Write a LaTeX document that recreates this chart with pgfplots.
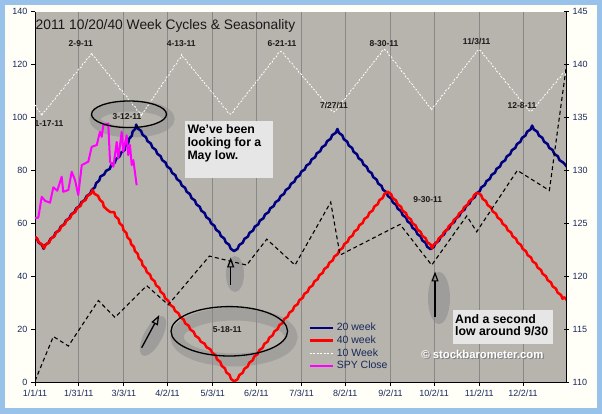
\documentclass[border=0pt]{standalone}
\usepackage{fontspec}
\setmainfont{Liberation Sans}
\usepackage{pgfplots}
\pgfplotsset{compat=1.18}
\usetikzlibrary{arrows.meta,decorations.pathmorphing}
\definecolor{outerblue}{RGB}{153,194,235}
\definecolor{cream}{RGB}{255,255,247}
\definecolor{plotgray}{RGB}{182,180,172}
\definecolor{gridgray}{RGB}{136,136,136}
\definecolor{navyc}{RGB}{0,0,128}
\definecolor{redc}{RGB}{255,0,0}
\definecolor{magc}{RGB}{255,0,255}
\definecolor{ticklab}{RGB}{25,40,90}
\definecolor{boxgray}{RGB}{230,230,230}
\definecolor{glow}{RGB}{118,116,124}
\definecolor{labtext}{RGB}{25,25,25}
\begin{document}
\begin{tikzpicture}
\useasboundingbox (0,0) rectangle (602pt,414pt);
\fill[outerblue] (0,0) rectangle (602pt,414pt);
\fill[cream] (5pt,5.7pt) rectangle (597pt,409pt);
\fill[plotgray] (35pt,32pt) rectangle (566.7pt,402.3pt);
% soft glows behind the annotations
\begin{scope}[x=1pt,y=-1pt,shift={(0pt,414pt)}]
  \draw[glow, opacity=0.3, line width=11pt] (132,119) ellipse [x radius=37pt, y radius=13pt];
  \draw[glow, opacity=0.3, line width=13pt] (234,337) ellipse [x radius=57pt, y radius=23pt];
  \fill[glow, opacity=0.35] (235,274) ellipse [x radius=9pt, y radius=18pt];
  \fill[glow, opacity=0.35] (439,298) ellipse [x radius=11pt, y radius=26pt];
  \fill[glow, opacity=0.35, rotate around={61.7:(153,336)}] (153,336) ellipse [x radius=22pt, y radius=9pt];
\end{scope}

\begin{axis}[
  at={(35pt,32pt)}, anchor=south west,
  scale only axis, width=531.7pt, height=370.3pt,
  xmin=0, xmax=365, ymin=0, ymax=140,
  axis x line*=bottom, axis y line*=left,
  axis line style={-, black, line width=0.9pt},
  xtick={0,30,61,91,122,152,183,213,244,274,305,335},
  xticklabels={1/1/11,1/31/11,3/3/11,4/2/11,5/3/11,6/2/11,7/3/11,8/2/11,9/2/11,10/2/11,11/2/11,12/2/11},
  ytick={0,20,...,140},
  xmajorgrids, major grid style={gridgray, line width=0.8pt},
  tick align=outside, major tick length=4pt,
  tick style={black, line width=0.8pt},
  tick label style={font=\fontsize{9}{10}\selectfont, text=ticklab},
  /pgf/number format/assume math mode=true,
  legend cell align=left,
  legend image code/.code={\draw[#1] (0pt,0pt) -- (23pt,0pt);},
  legend style={at={(axis description cs:0.508,0.166)}, anchor=north west,
    draw=none, fill=none, font=\fontsize{10.5}{12}\selectfont, text=ticklab,
    nodes={inner sep=0pt, text height=8pt, text depth=2.5pt},
    row sep=2.2pt, column sep=3pt},
]
\addlegendimage{navyc, line width=2.5pt}\addlegendentry{20 week}
\addlegendimage{redc, line width=2.5pt}\addlegendentry{40 week}
\addlegendimage{white, line width=0.8pt, dash pattern=on 2pt off 1.5pt}\addlegendentry{10 Week}
\addlegendimage{magc, line width=2.5pt}\addlegendentry{SPY Close}

% 10 Week
\addplot[forget plot, white, line width=0.8pt, dash pattern=on 2pt off 1.5pt,
  decorate, decoration={snake, amplitude=0.5pt, segment length=7pt}] coordinates {
(0,104.7) (4.6,100.9) (39,124.2) (73.3,100.9) (101.8,124.2) (136.1,101.0)
(169,124.2) (206,100.3) (240,124.0) (272.3,101.0) (305,124.0) (340,100.3) (365,116.7)};
% 20 week
\addplot[forget plot, navyc, line width=2.5pt, line join=round,
  decorate, decoration={snake, amplitude=0.6pt, segment length=8pt}] coordinates {
(0,54.8) (5.5,51.0) (39,72.8) (44.6,77.6) (51.5,81.4) (60.6,87.7) (70,98.0)
(136,51.0) (207,97.2) (272,51.0) (341,97.2) (365,81.4)};
% 40 week
\addplot[forget plot, redc, line width=2.5pt, line join=round,
  decorate, decoration={snake, amplitude=0.6pt, segment length=8pt}] coordinates {
(0,54.8) (5.5,51.3) (39,72.8) (44.6,69.4) (49.2,65.0) (55,63.8) (60.6,58.7)
(75.5,43.6) (91.5,31.0) (113,16.5) (122.4,11.5) (136.3,0.8) (241,72.8)
(272,51.0) (304.3,72.8) (365,31.0)};
% SPY Close
\addplot[forget plot, magc, line width=2pt, line join=round] coordinates {
(0,61.9) (2.3,62.2) (4.6,70.0) (6.9,68.5) (10.3,67.8) (12.6,73.6) (15.3,72.3)
(18.3,77.6) (19.4,71.9) (22.9,72.6) (25.2,79.5) (27.5,76.3) (29.7,70.7)
(32.1,82.0) (36.6,83.3) (38.9,88.9) (42.4,89.6) (44.6,94.6) (45.8,92.7)
(46.9,97.1) (50.3,97.7) (51.5,83.3) (53.8,81.4) (56.1,90.8) (57.2,84.5)
(59.5,94.6) (60.6,87.0) (62.9,93.3) (64.0,85.8) (65.2,89.6) (66.4,82.0)
(67.5,83.9) (69.8,74.4)};
\end{axis}

\begin{axis}[
  at={(35pt,32pt)}, anchor=south west,
  scale only axis, width=531.7pt, height=370.3pt,
  xmin=0, xmax=365, ymin=110, ymax=145,
  axis x line=none, axis y line*=right,
  axis line style={-, black, line width=0.9pt},
  ytick={110,115,...,145},
  tick align=center, major tick length=5pt,
  tick style={black, line width=0.8pt},
  tick label style={font=\fontsize{9}{10}\selectfont, text=ticklab},
  /pgf/number format/assume math mode=true,
]
\addplot[black, line width=1.1pt, dash pattern=on 4pt off 3pt] coordinates {
(0,110.1) (12.6,114.3) (22.9,113.4) (43.5,117.7) (54.9,116.1) (76.7,119.1)
(91.5,117.3) (119.7,121.9) (145.3,121.05) (159.1,123.5) (178.5,121.05)
(203,127.0) (209.4,122.0) (250.6,124.9) (272.3,121.05) (296.4,125.7)
(303.2,124.2) (331.1,130.0) (353.1,128.1) (365,140.1)};
\end{axis}

\begin{scope}[x=1pt,y=-1pt,shift={(0pt,414pt)}]
  % title
  \node[anchor=base west, inner sep=0pt, font=\fontsize{13.8}{15}\selectfont, text=labtext] at (35.5,29.3) {2011 10/20/40 Week Cycles \& Seasonality};
  % ellipses
  \draw[black, line width=1.3pt] (129,114.3) ellipse [x radius=37.5pt, y radius=13.3pt];
  \draw[black, line width=1.3pt] (229.3,331.3) ellipse [x radius=58.3pt, y radius=24.7pt];
  % arrows
  \draw[black, line width=1.3pt, -{Triangle[open, length=10pt, width=7pt, line width=1.2pt]}] (230.7,285) -- (230.7,257.5);
  \draw[black, line width=1.3pt, -{Triangle[open, length=10pt, width=7pt, line width=1.2pt]}] (435,317.3) -- (435,271.5);
  \draw[black, line width=1.3pt, -{Triangle[open, length=10pt, width=7pt, line width=1.2pt]}] (141.7,347.7) -- (159.3,315);
  % date labels
  \tikzset{lab/.style={inner sep=0pt, font=\fontsize{8.5}{10}\selectfont\bfseries, text=labtext}}
  \node[lab] at (80.8,43.3) {2-9-11};
  \node[lab] at (181.3,43.3) {4-13-11};
  \node[lab] at (282,43.3) {6-21-11};
  \node[lab] at (384,43.3) {8-30-11};
  \node[lab] at (476.7,41.7) {11/3/11};
  \node[lab] at (334,106) {7/27/11};
  \node[lab] at (522,106) {12-8-11};
  \node[lab] at (49,123.3) {1-17-11};
  \node[lab] at (127,116.7) {3-12-11};
  \node[lab] at (427.7,200) {9-30-11};
  \node[lab] at (227.3,330) {5-18-11};
  % text boxes
  \fill[boxgray] (185,120.7) rectangle (272.7,178.3);
  \tikzset{box/.style={anchor=base west, inner sep=0pt, font=\fontsize{12.3}{13}\selectfont\bfseries, text=black}}
  \node[box] at (187.3,134) {We\char"27 ve been};
  \node[box] at (187.3,146.7) {looking for a};
  \node[box] at (187.3,159.3) {May low.};
  \fill[boxgray] (453.3,310) rectangle (553.3,344);
  \node[box] at (455,323.3) {And a second};
  \node[box] at (455,336) {low around 9/30};
  % watermark
  \node[inner sep=0pt, font=\fontsize{11.3}{12}\selectfont\bfseries, text=glow, opacity=0.8] at (483.6,355.4) {© stockbarometer.com};
  \node[inner sep=0pt, font=\fontsize{11.3}{12}\selectfont\bfseries, text=white] at (482.4,354) {© stockbarometer.com};
\end{scope}
\end{tikzpicture}
\end{document}
